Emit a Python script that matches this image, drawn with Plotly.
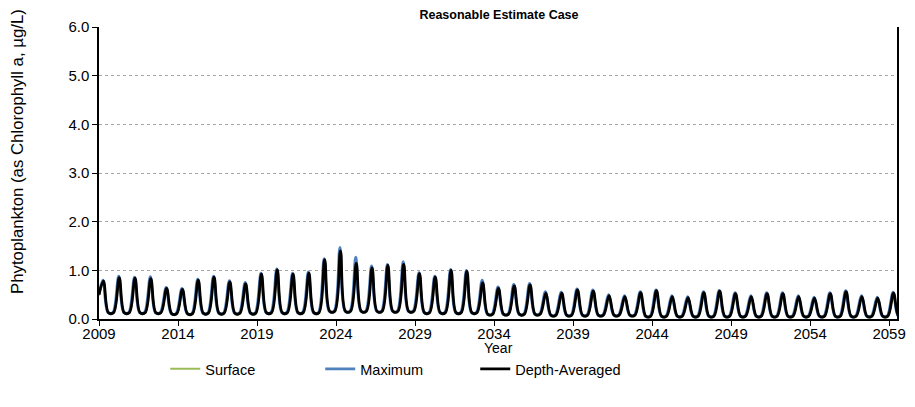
import plotly.graph_objects as go

# one seasonal bloom per year (ug/L)
years = list(range(2009, 2060))

depth_avg_peak = [0.78, 0.85, 0.84, 0.83, 0.63, 0.61, 0.80, 0.86, 0.76, 0.72,
                  0.92, 1.01, 0.92, 0.94, 1.22, 1.40, 1.14, 1.05, 1.10, 1.12,
                  0.93, 0.86, 1.00, 0.98, 0.74, 0.63, 0.68, 0.70, 0.53, 0.53,
                  0.60, 0.57, 0.48, 0.46, 0.54, 0.58, 0.46, 0.44, 0.54, 0.57,
                  0.52, 0.46, 0.52, 0.52, 0.46, 0.43, 0.52, 0.56, 0.46, 0.43,
                  0.53]
maximum_peak = [0.80, 0.88, 0.86, 0.87, 0.65, 0.63, 0.82, 0.88, 0.79, 0.75,
                0.94, 1.03, 0.94, 0.97, 1.24, 1.47, 1.27, 1.09, 1.12, 1.18,
                0.95, 0.88, 1.02, 1.00, 0.80, 0.66, 0.71, 0.73, 0.56, 0.55,
                0.62, 0.60, 0.50, 0.48, 0.56, 0.60, 0.48, 0.46, 0.56, 0.59,
                0.54, 0.48, 0.54, 0.54, 0.48, 0.45, 0.54, 0.58, 0.48, 0.45,
                0.55]
surface_peak = [0.75, 0.82, 0.81, 0.80, 0.60, 0.58, 0.77, 0.83, 0.73, 0.69,
                0.89, 0.98, 0.89, 0.91, 1.18, 1.36, 1.10, 1.02, 1.07, 1.08,
                0.90, 0.83, 0.97, 0.95, 0.71, 0.60, 0.65, 0.67, 0.50, 0.50,
                0.57, 0.54, 0.45, 0.43, 0.51, 0.55, 0.43, 0.41, 0.51, 0.54,
                0.49, 0.43, 0.49, 0.49, 0.43, 0.40, 0.49, 0.53, 0.43, 0.40,
                0.50]
trough = [0.13, 0.13, 0.13, 0.13, 0.11, 0.11, 0.12, 0.12, 0.12, 0.12,
          0.13, 0.13, 0.13, 0.13, 0.16, 0.16, 0.16, 0.16, 0.16, 0.16,
          0.13, 0.13, 0.13, 0.13, 0.10, 0.10, 0.10, 0.10, 0.08, 0.08,
          0.08, 0.08, 0.08, 0.08, 0.06, 0.06, 0.06, 0.06, 0.06, 0.06,
          0.06, 0.06, 0.06, 0.06, 0.06, 0.06, 0.06, 0.06, 0.06, 0.06,
          0.06]
start_value = {"Surface": 0.48, "Maximum": 0.52, "Depth-Averaged": 0.50}

tick_years = list(range(2009, 2060, 5))


def seasonal(peaks, lows, start, offs):
    # peak in spring, flat low through late summer/autumn
    xs, ys = [years[0]], [start]
    for yr, p, lo in zip(years, peaks, lows):
        xs += [yr + offs[0], yr + offs[1], yr + offs[2]]
        ys += [p, lo, lo]
    return xs, ys


series = [
    ("Surface", surface_peak, [t - 0.01 for t in trough], "#9BBB59", 2, (0.28, 0.60, 0.92)),
    ("Maximum", maximum_peak, trough, "#4F81BD", 2.8, (0.25, 0.57, 0.87)),
    ("Depth-Averaged", depth_avg_peak, trough, "#000000", 2.8, (0.28, 0.60, 0.92)),
]

fig = go.Figure()
for name, pk, lo, col, w, offs in series:
    x, y = seasonal(pk, lo, start_value[name], offs)
    fig.add_trace(go.Scatter(x=x, y=y, name=name, mode="lines",
                             line=dict(color=col, width=w, shape="spline", smoothing=1)))

font = "Liberation Sans, Arial, sans-serif"
fig.update_layout(
    width=915, height=407,
    margin=dict(l=91, r=26, t=19, b=96, autoexpand=False),
    paper_bgcolor="white", plot_bgcolor="white",
    font=dict(family=font, size=15, color="black"),
    title=dict(text="<b>Reasonable Estimate Case</b>", x=0.5366, xanchor="center",
               y=0.984, yanchor="middle", font=dict(size=12.5)),
    showlegend=True,
    legend=dict(orientation="h", x=0.083, xanchor="left", y=-0.171, yanchor="middle",
                entrywidth=110, entrywidthmode="pixels", font=dict(size=14.5),
                tracegroupgap=0),
    annotations=[
        dict(text="Year", xref="paper", yref="paper", x=0.5, y=-0.1,
             xanchor="center", yanchor="middle", showarrow=False, font=dict(size=14)),
        dict(text="Phytoplankton (as Chlorophyll a, µg/L)", xref="paper", yref="paper",
             x=-0.102, y=0.574, xanchor="center", yanchor="middle", textangle=-90,
             showarrow=False, font=dict(size=16.8)),
    ],
)
fig.update_xaxes(
    range=[2009, 2059.5], tickvals=tick_years, showgrid=False, automargin=False,
    showline=True, linecolor="black", linewidth=1.5,
    ticks="outside", ticklen=5, tickcolor="black", tickfont=dict(size=15),
    ticklabelstandoff=-5, zeroline=False,
)
fig.update_yaxes(
    range=[0, 6], dtick=1, tickformat=".1f", automargin=False,
    showgrid=True, gridcolor="#A6A6A6", griddash="dot", gridwidth=1,
    showline=True, linecolor="black", linewidth=1.5, mirror=True,
    ticks="outside", ticklen=5, tickcolor="black", tickfont=dict(size=15),
    zeroline=False,
)

fig.write_html("out.html")
